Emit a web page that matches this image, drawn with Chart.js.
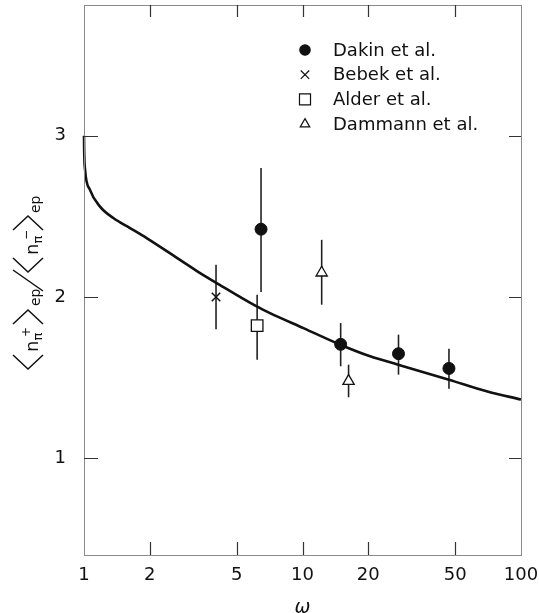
<!DOCTYPE html>
<html>
<head>
<meta charset="utf-8">
<script src="https://cdn.jsdelivr.net/npm/chart.js@4.4.1/dist/chart.umd.min.js"></script>
<style>
    body { margin: 0; background: #fff; }
    #contenedor { width: 539px; height: 613px; }
</style>
</head>
<body>
<div id="contenedor"><canvas id="razonChart" width="539" height="613"></canvas></div>
<script>
// Curva teórica
const curvaX = [1, 1.002, 1.011, 1.065, 1.184, 1.362, 1.624, 1.935, 2.75, 3.4, 3.98, 6.17, 7.1, 10.1, 14.9, 20.4, 27.4, 46.8, 69.6, 100];
const curvaY = [3.0, 2.9, 2.79, 2.664, 2.56, 2.489, 2.427, 2.365, 2.23, 2.148, 2.092, 1.941, 1.90, 1.807, 1.704, 1.632, 1.58, 1.487, 1.415, 1.364];

// Datos experimentales (valor, límite inferior y superior de la barra de error)
const dakinX = [6.46, 14.95, 27.5, 46.8];
const dakinY = [2.42, 1.706, 1.648, 1.557];
const dakinMin = [2.03, 1.57, 1.518, 1.43];
const dakinMax = [2.80, 1.838, 1.766, 1.679];

const bebekX = [4.02];
const bebekY = [2.0];
const bebekMin = [1.80];
const bebekMax = [2.20];

const alderX = [6.2];
const alderY = [1.822];
const alderMin = [1.611];
const alderMax = [2.014];

const dammannX = [12.24, 16.25];
const dammannY = [2.15, 1.478];
const dammannMin = [1.952, 1.378];
const dammannMax = [2.354, 1.58];

const ticksX = [1, 2, 5, 10, 20, 50, 100];
const ticksY = [1, 2, 3];
const nombres = ["Dakin et al.", "Bebek et al.", "Alder et al.", "Dammann et al."];

const FUENTE = "'DejaVu Sans', sans-serif";
const NEGRO = "#111";

function puntos(xs, ys) {
    return xs.map((x, i) => ({ x: x, y: ys[i] }));
}

// Barras de error verticales
const barrasError = {
    id: "barrasError",
    beforeDatasetsDraw(chart) {
        const ctx = chart.ctx;
        const xs = chart.scales.x, ys = chart.scales.y;
        ctx.save();
        ctx.strokeStyle = "#222";
        ctx.lineWidth = 1.6;
        chart.data.datasets.forEach(ds => {
            if (!ds.errMin) return;
            ds.data.forEach((p, i) => {
                const px = xs.getPixelForValue(p.x);
                ctx.beginPath();
                ctx.moveTo(px, ys.getPixelForValue(ds.errMin[i]));
                ctx.lineTo(px, ys.getPixelForValue(ds.errMax[i]));
                ctx.stroke();
            });
        });
        ctx.restore();
    }
};

// Marco y marcas de los ejes hacia dentro
const marco = {
    id: "marco",
    afterDraw(chart) {
        const ctx = chart.ctx;
        const a = chart.chartArea;
        const xs = chart.scales.x, ys = chart.scales.y;
        ctx.save();
        ctx.strokeStyle = "#8a8a8a";
        ctx.lineWidth = 1;
        ctx.strokeRect(a.left + 0.5, a.top + 0.5, a.right - a.left, a.bottom - a.top);
        ctx.strokeStyle = "#333";
        ctx.lineWidth = 1.2;
        ctx.beginPath();
        ticksX.slice(1, -1).forEach(v => {
            const px = Math.round(xs.getPixelForValue(v)) + 0.5;
            ctx.moveTo(px, a.bottom); ctx.lineTo(px, a.bottom - 13);
            ctx.moveTo(px, a.top); ctx.lineTo(px, a.top + 12);
        });
        ticksY.forEach(v => {
            const py = Math.round(ys.getPixelForValue(v)) + 0.5;
            ctx.moveTo(a.left, py); ctx.lineTo(a.left + 14, py);
            ctx.moveTo(a.right, py); ctx.lineTo(a.right - 12, py);
        });
        ctx.stroke();
        ctx.restore();
    }
};

// Leyenda dentro del área del gráfico
const leyenda = {
    id: "leyenda",
    afterDraw(chart) {
        const ctx = chart.ctx;
        const estilos = chart.data.datasets.slice(1);
        ctx.save();
        ctx.font = "18px " + FUENTE;
        ctx.textBaseline = "middle";
        nombres.forEach((nombre, i) => {
            const y = 50 + i * 24.7;
            const ds = estilos[i];
            ctx.fillStyle = ds.backgroundColor;
            ctx.strokeStyle = NEGRO;
            ctx.lineWidth = 1.2;
            Chart.helpers.drawPoint(ctx, {
                pointStyle: ds.pointStyle,
                radius: ds.legendRadius,
                rotation: 0,
                borderWidth: 1.2
            }, 305, y);
            ctx.fillStyle = NEGRO;
            ctx.fillText(nombre, 333, y + 1);
        });
        ctx.restore();
    }
};

// Título del eje Y con subíndices
const tituloY = {
    id: "tituloY",
    afterDraw(chart) {
        const ctx = chart.ctx;
        ctx.save();
        ctx.translate(28, 284);
        ctx.rotate(-Math.PI / 2);
        ctx.fillStyle = NEGRO;
        ctx.strokeStyle = NEGRO;
        ctx.lineWidth = 1.5;
        ctx.textBaseline = "alphabetic";

        function angulo(vertice, brazo) {
            ctx.beginPath();
            ctx.moveTo(brazo, -15);
            ctx.lineTo(vertice, 0);
            ctx.lineTo(brazo, 15);
            ctx.stroke();
        }
        function texto(t, x, y, tam) {
            ctx.font = tam + "px " + FUENTE;
            ctx.fillText(t, x, y);
        }

        angulo(-85, -71);
        texto("n", -68, 10, 18);
        texto("π", -56.5, 14, 13);
        texto("+", -53, 2, 12);
        angulo(-26, -40);
        texto("ep", -22, 12, 14);

        ctx.beginPath();
        ctx.moveTo(-7, 15);
        ctx.lineTo(14, -15);
        ctx.stroke();

        angulo(12, 26);
        texto("n", 29, 10, 18);
        texto("π", 40.5, 14, 13);
        texto("−", 44, 2, 12);
        angulo(68, 54);
        texto("ep", 71, 12, 14);
        ctx.restore();
    }
};

const ctx = document.getElementById("razonChart").getContext("2d");

new Chart(ctx, {
    type: "scatter",
    data: {
        datasets: [
            {
                label: "curva",
                data: puntos(curvaX, curvaY),
                showLine: true,
                borderColor: NEGRO,
                borderWidth: 2.6,
                pointRadius: 0,
                cubicInterpolationMode: "monotone",
                clip: 4
            },
            {
                label: nombres[0],
                data: puntos(dakinX, dakinY),
                errMin: dakinMin, errMax: dakinMax,
                pointStyle: "circle",
                pointRadius: 6,
                legendRadius: 5.2,
                backgroundColor: NEGRO,
                borderColor: NEGRO,
                borderWidth: 1
            },
            {
                label: nombres[1],
                data: puntos(bebekX, bebekY),
                errMin: bebekMin, errMax: bebekMax,
                pointStyle: "crossRot",
                pointRadius: 6,
                legendRadius: 6,
                backgroundColor: "#fff",
                borderColor: NEGRO,
                borderWidth: 1.5
            },
            {
                label: nombres[2],
                data: puntos(alderX, alderY),
                errMin: alderMin, errMax: alderMax,
                pointStyle: "rect",
                pointRadius: 8.2,
                legendRadius: 7.8,
                backgroundColor: "#fff",
                borderColor: NEGRO,
                borderWidth: 1.3
            },
            {
                label: nombres[3],
                data: puntos(dammannX, dammannY),
                errMin: dammannMin, errMax: dammannMax,
                pointStyle: "triangle",
                pointRadius: 6.5,
                legendRadius: 5.5,
                backgroundColor: "#fff",
                borderColor: NEGRO,
                borderWidth: 1.3
            }
        ]
    },
    options: {
        responsive: false,
        animation: false,
        layout: { autoPadding: false, padding: { top: 5, right: 18, left: 0, bottom: 0 } },
        plugins: {
            legend: { display: false },
            tooltip: { enabled: false }
        },
        scales: {
            x: {
                type: "logarithmic",
                min: 1,
                max: 100,
                afterBuildTicks: axis => { axis.ticks = ticksX.map(v => ({ value: v })); },
                afterFit: axis => {
                    axis.height = 58;
                    axis.paddingLeft = 0;
                    axis.paddingRight = 0;
                },
                grid: { display: false, drawTicks: false },
                border: { display: false },
                ticks: {
                    autoSkip: false,
                    maxRotation: 0,
                    padding: 10,
                    color: NEGRO,
                    font: { family: FUENTE, size: 18 },
                    callback: value => String(value)
                },
                title: {
                    display: true,
                    text: "ω",
                    color: NEGRO,
                    font: { family: FUENTE, size: 19, style: "italic" },
                    padding: { top: 0, bottom: -6 }
                }
            },
            y: {
                min: 0.4,
                max: 3.81,
                afterBuildTicks: axis => { axis.ticks = ticksY.map(v => ({ value: v })); },
                afterFit: axis => {
                    axis.width = 84;
                    axis.paddingTop = 0;
                    axis.paddingBottom = 0;
                },
                grid: { display: false, drawTicks: false },
                border: { display: false },
                ticks: {
                    padding: 18,
                    color: NEGRO,
                    font: { family: FUENTE, size: 18 },
                    callback: value => String(value)
                }
            }
        }
    },
    plugins: [barrasError, marco, leyenda, tituloY]
});
</script>
</body>
</html>
